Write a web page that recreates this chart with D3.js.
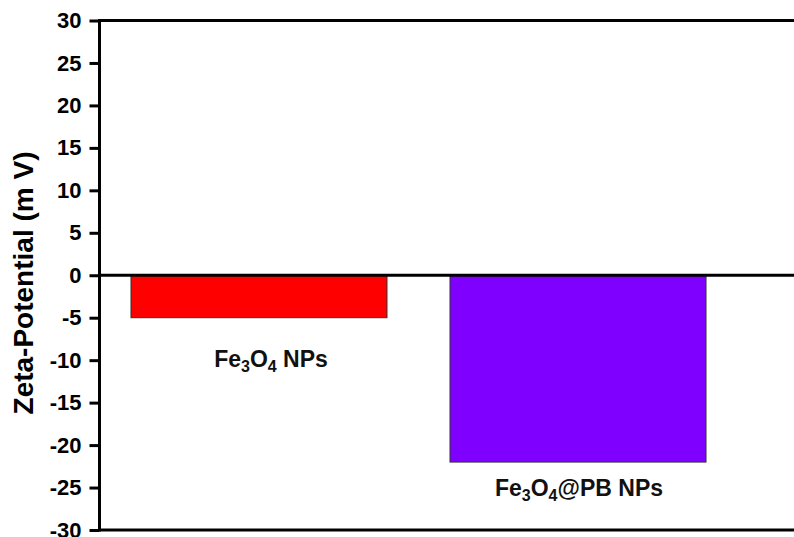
<!DOCTYPE html>
<html>
<head>
<meta charset="utf-8">
<script src="https://cdn.jsdelivr.net/npm/d3@7"></script>
<style>
  html, body { margin: 0; padding: 0; background: #fff; }
  svg { display: block; font-family: "Liberation Sans", Arial, sans-serif; }
</style>
</head>
<body>
<svg id="chart" width="794" height="537"></svg>
<script>
// Zeta potential of the two nanoparticle samples (mV)
const categories = ["Fe3O4", "Fe3O4@PB"];
const zetaValues = [-5, -22];
const barColors = ["#ff0000", "#8000ff"];
const yTicks = [-30, -25, -20, -15, -10, -5, 0, 5, 10, 15, 20, 25, 30];

const svg = d3.select("#chart");
const plotLeft = 99.5, plotTop = 20.5, plotBottom = 530, plotRight = 737.5;

const y = d3.scaleLinear().domain([-30, 30]).range([plotBottom, plotTop]);
const x = d3.scaleBand().domain(categories).range([plotLeft, plotRight])
  .paddingInner(0.1975).paddingOuter(0.0987);

// Bars hang down from zero
svg.append("g").selectAll("rect")
  .data(categories)
  .join("rect")
  .attr("x", d => x(d))
  .attr("width", x.bandwidth())
  .attr("y", (d, i) => y(Math.max(0, zetaValues[i])))
  .attr("height", (d, i) => Math.abs(y(zetaValues[i]) - y(0)))
  .attr("fill", (d, i) => barColors[i])
  .attr("stroke", "#333")
  .attr("stroke-width", 1);

// Frame: top and bottom run off the right edge
svg.append("line").attr("x1", plotLeft).attr("x2", 800).attr("y1", plotTop).attr("y2", plotTop)
  .attr("stroke", "#000").attr("stroke-width", 3);
svg.append("line").attr("x1", plotLeft).attr("x2", 800).attr("y1", plotBottom).attr("y2", plotBottom)
  .attr("stroke", "#000").attr("stroke-width", 3);
// Zero line
svg.append("line").attr("x1", plotLeft).attr("x2", 800).attr("y1", y(0)).attr("y2", y(0))
  .attr("stroke", "#000").attr("stroke-width", 3);

// Y axis (plain hyphen for negatives)
const yAxis = svg.append("g")
  .attr("transform", `translate(${plotLeft},0)`)
  .call(d3.axisLeft(y).tickValues(yTicks).tickSize(10).tickPadding(8).tickFormat(d => String(d)));
yAxis.select(".domain").attr("stroke", "#000").attr("stroke-width", 3)
  .attr("d", `M0,${plotTop - 1.5}V${plotBottom + 1.5}`);
yAxis.selectAll(".tick line").attr("stroke", "#000").attr("stroke-width", 3);
yAxis.selectAll(".tick text")
  .attr("fill", "#000")
  .style("font-family", "'Liberation Sans', Arial, sans-serif")
  .style("font-size", "22px")
  .style("font-weight", "bold");

// Y title
svg.append("text")
  .attr("transform", `translate(33,283) rotate(-90)`)
  .attr("text-anchor", "middle")
  .style("font-size", "28px")
  .style("font-weight", "bold")
  .text("Zeta-Potential (m V)");

// Bar labels with chemical subscripts
function chemLabel(sel, name) {
  const parts = name === "Fe3O4"
    ? [["Fe", 0], ["3", 1], ["O", 0], ["4", 1], [" NPs", 0]]
    : [["Fe", 0], ["3", 1], ["O", 0], ["4", 1], ["@PB NPs", 0]];
  parts.forEach(([t, sub]) => {
    sel.append("tspan")
      .style("font-size", sub ? "16px" : "23px")
      .attr("baseline-shift", sub ? "-30%" : null)
      .text(t);
  });
}
const labelDrop = [49, 34];
const labelShift = [12, 1];
categories.forEach((c, i) => {
  const t = svg.append("text")
    .attr("x", x(c) + x.bandwidth() / 2 + labelShift[i])
    .attr("y", y(zetaValues[i]) + labelDrop[i])
    .attr("text-anchor", "middle")
    .style("font-weight", "bold")
    .attr("fill", "#111");
  chemLabel(t, c);
});
</script>
</body>
</html>
